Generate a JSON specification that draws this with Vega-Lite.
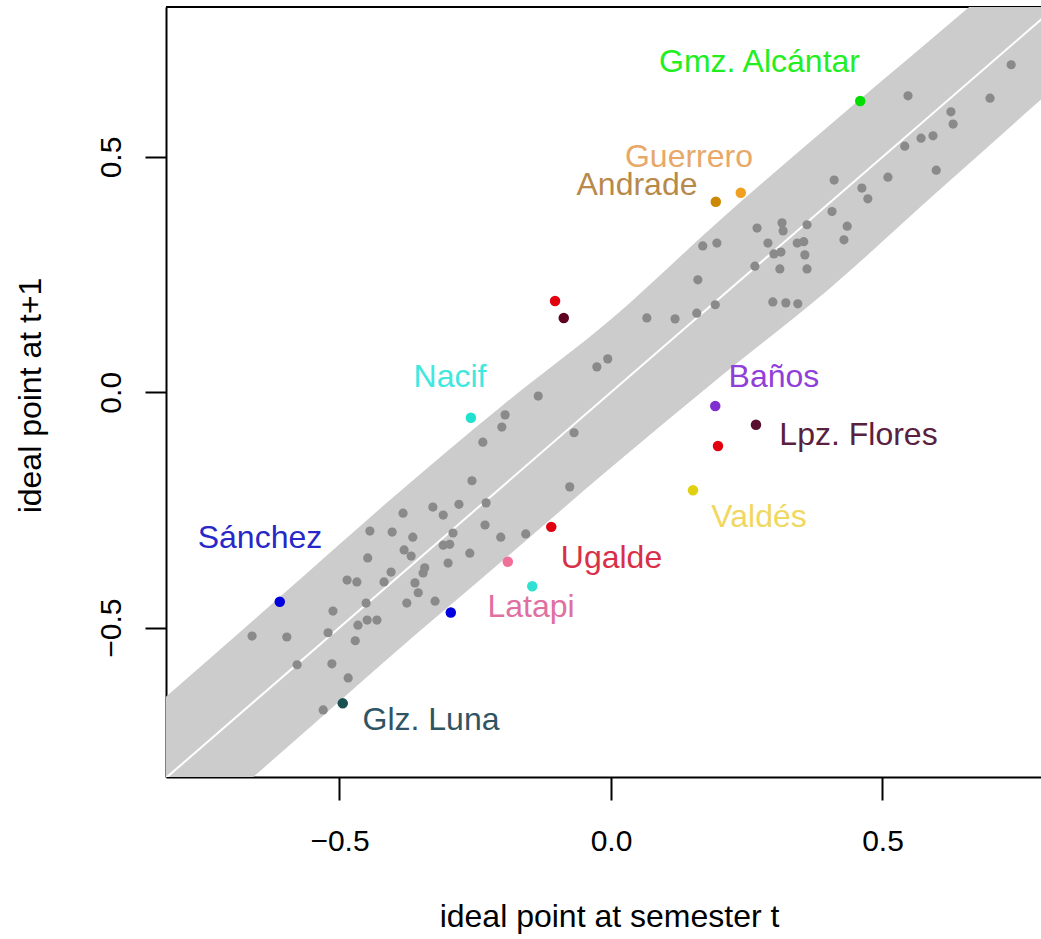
{
"$schema": "https://vega.github.io/schema/vega-lite/v6.json",
"autosize": {"type": "none"},
"width": 875,
"height": 770,
"padding": {"left": 166, "top": 7, "right": 0, "bottom": 162},
"background": "white",
"config": {"view": {"stroke": null}, "font": "Liberation Sans", "axis": {"grid": false}},
"datasets": {
"band": [
{"x": -0.9, "lo": -1.06, "hi": -0.728},
{"x": -0.6, "lo": -0.758, "hi": -0.425},
{"x": -0.4, "lo": -0.555, "hi": -0.222},
{"x": -0.2, "lo": -0.358, "hi": -0.028},
{"x": 0.0, "lo": -0.16, "hi": 0.155},
{"x": 0.2, "lo": 0.032, "hi": 0.365},
{"x": 0.4, "lo": 0.218, "hi": 0.565},
{"x": 0.6, "lo": 0.425, "hi": 0.76},
{"x": 0.9, "lo": 0.733, "hi": 1.058}
],
"diag": [{"x": -0.9, "y": -0.9}, {"x": 0.9, "y": 0.9}],
"gray": [
{"x": -0.661, "y": -0.518}, {"x": -0.597, "y": -0.520}, {"x": -0.578, "y": -0.579}, {"x": -0.514, "y": -0.577},
{"x": -0.484, "y": -0.607}, {"x": -0.530, "y": -0.675}, {"x": -0.521, "y": -0.511}, {"x": -0.512, "y": -0.465},
{"x": -0.471, "y": -0.528}, {"x": -0.451, "y": -0.448}, {"x": -0.466, "y": -0.495}, {"x": -0.449, "y": -0.484},
{"x": -0.431, "y": -0.484}, {"x": -0.486, "y": -0.399}, {"x": -0.468, "y": -0.403}, {"x": -0.448, "y": -0.352},
{"x": -0.444, "y": -0.295}, {"x": -0.403, "y": -0.297}, {"x": -0.365, "y": -0.308}, {"x": -0.383, "y": -0.257},
{"x": -0.381, "y": -0.335}, {"x": -0.368, "y": -0.348}, {"x": -0.405, "y": -0.382}, {"x": -0.418, "y": -0.403},
{"x": -0.376, "y": -0.448}, {"x": -0.355, "y": -0.426}, {"x": -0.343, "y": -0.373}, {"x": -0.346, "y": -0.384},
{"x": -0.328, "y": -0.244}, {"x": -0.309, "y": -0.261}, {"x": -0.309, "y": -0.325}, {"x": -0.297, "y": -0.323},
{"x": -0.300, "y": -0.363}, {"x": -0.291, "y": -0.299}, {"x": -0.260, "y": -0.342}, {"x": -0.232, "y": -0.282},
{"x": -0.203, "y": -0.308}, {"x": -0.157, "y": -0.301}, {"x": -0.230, "y": -0.235}, {"x": -0.280, "y": -0.238},
{"x": -0.324, "y": -0.444}, {"x": -0.361, "y": -0.405}, {"x": -0.256, "y": -0.188}, {"x": -0.236, "y": -0.106},
{"x": -0.201, "y": -0.074}, {"x": -0.195, "y": -0.048}, {"x": -0.134, "y": -0.008}, {"x": -0.068, "y": -0.086},
{"x": -0.076, "y": -0.201}, {"x": -0.026, "y": 0.054}, {"x": -0.006, "y": 0.071}, {"x": 0.066, "y": 0.158},
{"x": 0.118, "y": 0.156}, {"x": 0.158, "y": 0.168}, {"x": 0.192, "y": 0.186}, {"x": 0.160, "y": 0.239},
{"x": 0.169, "y": 0.311}, {"x": 0.195, "y": 0.317}, {"x": 0.269, "y": 0.349}, {"x": 0.289, "y": 0.317},
{"x": 0.300, "y": 0.294}, {"x": 0.313, "y": 0.298}, {"x": 0.343, "y": 0.317}, {"x": 0.355, "y": 0.320},
{"x": 0.357, "y": 0.292}, {"x": 0.265, "y": 0.268}, {"x": 0.311, "y": 0.262}, {"x": 0.361, "y": 0.262},
{"x": 0.298, "y": 0.192}, {"x": 0.322, "y": 0.190}, {"x": 0.344, "y": 0.188}, {"x": 0.315, "y": 0.360},
{"x": 0.317, "y": 0.343}, {"x": 0.361, "y": 0.356}, {"x": 0.407, "y": 0.384}, {"x": 0.435, "y": 0.353},
{"x": 0.429, "y": 0.324}, {"x": 0.411, "y": 0.451}, {"x": 0.462, "y": 0.434}, {"x": 0.473, "y": 0.411},
{"x": 0.510, "y": 0.457}, {"x": 0.599, "y": 0.472}, {"x": 0.541, "y": 0.523}, {"x": 0.571, "y": 0.540},
{"x": 0.593, "y": 0.545}, {"x": 0.626, "y": 0.596}, {"x": 0.630, "y": 0.570}, {"x": 0.547, "y": 0.630},
{"x": 0.698, "y": 0.625}, {"x": 0.737, "y": 0.696}
],
"colored": [
{"name": "Gmz. Alcántar", "x": 0.459, "y": 0.619},
{"name": "Guerrero", "x": 0.239, "y": 0.424},
{"name": "Andrade", "x": 0.193, "y": 0.405},
{"name": "red1", "x": -0.103, "y": 0.194},
{"name": "maroon1", "x": -0.087, "y": 0.158},
{"name": "Nacif", "x": -0.258, "y": -0.054},
{"name": "Baños", "x": 0.192, "y": -0.029},
{"name": "red2", "x": 0.197, "y": -0.114},
{"name": "Lpz. Flores", "x": 0.267, "y": -0.069},
{"name": "Valdés", "x": 0.151, "y": -0.208},
{"name": "Ugalde", "x": -0.110, "y": -0.286},
{"name": "Latapi", "x": -0.190, "y": -0.360},
{"name": "cyan2", "x": -0.145, "y": -0.412},
{"name": "blue2", "x": -0.295, "y": -0.468},
{"name": "Sánchez", "x": -0.610, "y": -0.445},
{"name": "Glz. Luna", "x": -0.494, "y": -0.661}
],
"labels": [
{"label": "Gmz. Alcántar", "x": 0.2735, "y": 0.6806},
{"label": "Guerrero", "x": 0.1436, "y": 0.4788},
{"label": "Andrade", "x": 0.0479, "y": 0.4194},
{"label": "Nacif", "x": -0.2965, "y": 0.0112},
{"label": "Baños", "x": 0.300, "y": 0.0112},
{"label": "Lpz. Flores", "x": 0.4558, "y": -0.1124},
{"label": "Valdés", "x": 0.2726, "y": -0.2855},
{"label": "Ugalde", "x": 0.0009, "y": -0.3731},
{"label": "Latapi", "x": -0.1473, "y": -0.478},
{"label": "Sánchez", "x": -0.6464, "y": -0.3308},
{"label": "Glz. Luna", "x": -0.3315, "y": -0.7182}
]
},
"resolve": {"scale": {"color": "independent"}},
"layer": [
{
"data": {"values": [{}]},
"mark": {"type": "rule", "color": "black", "strokeWidth": 2},
"encoding": {"y": {"datum": 0.8187, "type": "quantitative", "scale": {"domain": [-0.8175, 0.8187], "nice": false, "zero": false}, "title": "ideal point at t+1"}}
},
{
"data": {"name": "band"},
"mark": {"type": "area", "color": "#cccccc", "opacity": 1, "clip": true, "orient": "vertical", "interpolate": "monotone"},
"encoding": {
"x": {"field": "x", "type": "quantitative", "scale": {"domain": [-0.8195, 0.7919], "nice": false, "zero": false}, "title": "ideal point at semester t",
"axis": {"values": [-0.5, 0, 0.5], "format": ".1f", "domainColor": "black", "domainWidth": 2, "tickColor": "black", "tickWidth": 2, "tickSize": 23, "labelFontSize": 30, "labelColor": "black", "labelPadding": 50, "labelBaseline": "alphabetic", "labelFlush": false, "labelOverlap": false, "titleFontSize": 32, "titleFontWeight": "normal", "titleColor": "black", "titleX": 443, "titleY": 149, "titleAlign": "center", "titleBaseline": "alphabetic"}},
"y": {"field": "lo", "type": "quantitative", "scale": {"domain": [-0.8175, 0.8187], "nice": false, "zero": false}, "title": "ideal point at t+1",
"axis": {"values": [-0.5, 0, 0.5], "format": ".1f", "domainColor": "black", "domainWidth": 2, "tickColor": "black", "tickWidth": 2, "tickSize": 21, "labelFontSize": 30, "labelColor": "black", "labelAngle": -90, "labelAlign": "center", "labelBaseline": "alphabetic", "labelPadding": 25, "labelFlush": false, "labelOverlap": false, "titleFontSize": 32, "titleFontWeight": "normal", "titleColor": "black", "titleAngle": -90, "titleX": -126, "titleY": 388, "titleAlign": "center", "titleBaseline": "alphabetic"}},
"y2": {"field": "hi"}
}
},
{
"data": {"name": "diag"},
"mark": {"type": "line", "color": "white", "strokeWidth": 2, "clip": true},
"encoding": {
"x": {"field": "x", "type": "quantitative", "scale": {"domain": [-0.8195, 0.7919], "nice": false, "zero": false}, "title": "ideal point at semester t"},
"y": {"field": "y", "type": "quantitative", "scale": {"domain": [-0.8175, 0.8187], "nice": false, "zero": false}, "title": "ideal point at t+1"}
}
},
{
"data": {"name": "gray"},
"mark": {"type": "circle", "color": "#8a8a8a", "opacity": 1, "size": 85},
"encoding": {
"x": {"field": "x", "type": "quantitative", "scale": {"domain": [-0.8195, 0.7919], "nice": false, "zero": false}, "title": "ideal point at semester t"},
"y": {"field": "y", "type": "quantitative", "scale": {"domain": [-0.8175, 0.8187], "nice": false, "zero": false}, "title": "ideal point at t+1"}
}
},
{
"data": {"name": "colored"},
"mark": {"type": "circle", "opacity": 1, "size": 110},
"encoding": {
"x": {"field": "x", "type": "quantitative", "scale": {"domain": [-0.8195, 0.7919], "nice": false, "zero": false}, "title": "ideal point at semester t"},
"y": {"field": "y", "type": "quantitative", "scale": {"domain": [-0.8175, 0.8187], "nice": false, "zero": false}, "title": "ideal point at t+1"},
"color": {"field": "name", "type": "nominal", "legend": null, "scale": {
"domain": ["Gmz. Alcántar", "Guerrero", "Andrade", "red1", "maroon1", "Nacif", "Baños", "red2", "Lpz. Flores", "Valdés", "Ugalde", "Latapi", "cyan2", "blue2", "Sánchez", "Glz. Luna"],
"range": ["#00dd00", "#f0a020", "#cc8800", "#e00010", "#600020", "#20e0d0", "#8030d0", "#e00010", "#5a1030", "#e0d010", "#e00010", "#f07098", "#30e0d0", "#0000e0", "#0000dd", "#1a5050"]}}
}
},
{
"data": {"name": "labels"},
"mark": {"type": "text", "fontSize": 32, "baseline": "alphabetic", "align": "center", "font": "Liberation Sans"},
"encoding": {
"x": {"field": "x", "type": "quantitative", "scale": {"domain": [-0.8195, 0.7919], "nice": false, "zero": false}, "title": "ideal point at semester t"},
"y": {"field": "y", "type": "quantitative", "scale": {"domain": [-0.8175, 0.8187], "nice": false, "zero": false}, "title": "ideal point at t+1"},
"text": {"field": "label"},
"color": {"field": "label", "type": "nominal", "legend": null, "scale": {
"domain": ["Gmz. Alcántar", "Guerrero", "Andrade", "Nacif", "Baños", "Lpz. Flores", "Valdés", "Ugalde", "Latapi", "Sánchez", "Glz. Luna"],
"range": ["#22ee22", "#e8a868", "#b8894a", "#40e8e0", "#9040d8", "#5a2040", "#f0d860", "#d83048", "#e070a0", "#2828c8", "#2f5565"]}}
}
}
]
}
